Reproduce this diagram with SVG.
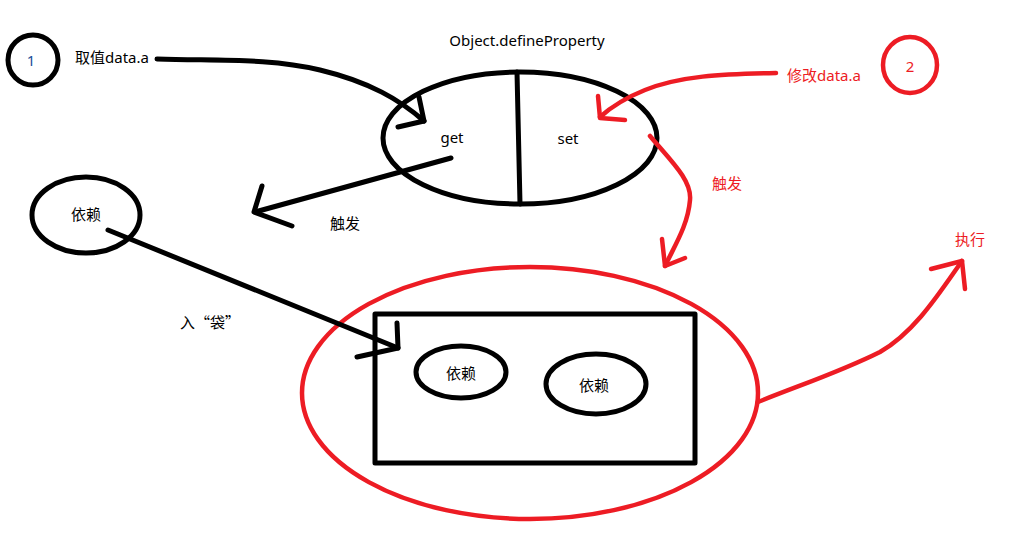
<svg xmlns="http://www.w3.org/2000/svg" width="1013" height="543" viewBox="0 0 1013 543">
<style>
.k{fill:none;stroke:#000;stroke-width:5;stroke-linecap:round;stroke-linejoin:round}
.r{fill:none;stroke:#ed1c24;stroke-width:4.5;stroke-linecap:round;stroke-linejoin:round}
text{font-family:"Noto Sans","Noto Sans CJK SC",sans-serif;font-size:15px;dominant-baseline:central}
.cjk{font-family:"Noto Sans CJK SC",sans-serif}
.tk{fill:#000}
.tr{fill:#ed1c24}
.tb{fill:#1a4f9a}
</style>
<rect width="1013" height="543" fill="#fff"/>
<g id="n1"><circle class="k" cx="33" cy="60" r="25"/><text class="tb" x="31" y="60" text-anchor="middle">1</text></g>
<g id="lbl-get-src"><text class="tk" x="75" y="57">取值data.a</text></g>
<g id="title"><text class="tk" x="527" y="40" text-anchor="middle">Object.defineProperty</text></g>
<g id="dp"><ellipse class="k" cx="520" cy="138" rx="137" ry="66"/><path class="k" d="M517 72 L520 204"/><text class="tk" x="452" y="137" text-anchor="middle">get</text><text class="tk" x="568" y="138" text-anchor="middle">set</text></g>
<g id="dep"><ellipse class="k" cx="86" cy="215" rx="54" ry="38"/><text class="tk" x="86" y="214" text-anchor="middle">依赖</text></g>
<g id="bag"><ellipse class="r" cx="530" cy="393" rx="228" ry="126"/><rect class="k" x="375" y="314" width="320" height="149" stroke-linecap="butt" stroke-linejoin="miter"/></g>
<g id="dep1"><ellipse class="k" cx="461" cy="372" rx="45" ry="26"/><text class="tk" x="461" y="373" text-anchor="middle">依赖</text></g>
<g id="dep2"><ellipse class="k" cx="596" cy="384" rx="50" ry="30"/><text class="tk" x="594" y="385" text-anchor="middle">依赖</text></g>
<g id="n2"><ellipse class="r" cx="910" cy="65" rx="27" ry="28"/><text class="tr" x="910" y="66" text-anchor="middle">2</text></g>
<g id="lbl-set-src"><text class="tr" x="787" y="75">修改data.a</text></g>
<g id="labels">
<text class="tk" x="345" y="223" text-anchor="middle">触发</text>
<text class="tk cjk" x="210" y="321" text-anchor="middle">入“袋”</text>
<text class="tr" x="727" y="183" text-anchor="middle">触发</text>
<text class="tr" x="970" y="239" text-anchor="middle">执行</text>
</g>
<g id="connectors">
<path class="k" d="M157 59 C220 61 270 58 320 70 C370 82 400 100 424 121"/>
<path class="k" d="M398 127 L424 121 L419 97"/>
<path class="k" d="M451 158 L255 212"/>
<path class="k" d="M262 186 L254 212 L292 226"/>
<path class="k" d="M108 230 L398 348"/>
<path class="k" d="M397 323 L398 348 L357 357"/>
<path class="r" d="M776 73 C720 74 680 76 645 90 C625 98 610 108 600 117"/>
<path class="r" d="M598 96 L600 118 L625 120"/>
<path class="r" d="M650 136 C670 160 692 180 690 200 C688 225 675 245 665 266"/>
<path class="r" d="M662 239 L665 266 L685 258"/>
<path class="r" d="M758 402 C800 385 840 372 880 352 C915 332 940 292 962 261"/>
<path class="r" d="M931 269 L962 261 L965 289"/>
</g>
</svg>
